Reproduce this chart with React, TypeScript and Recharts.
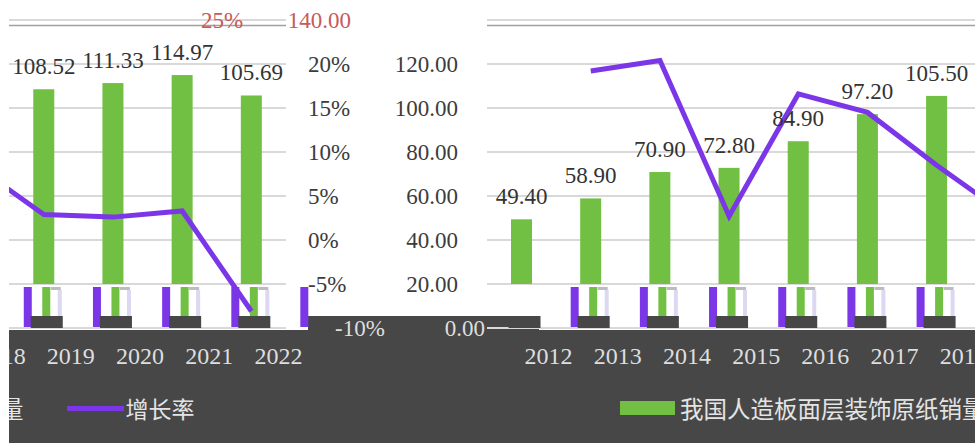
import { ComposedChart, Bar, Line, XAxis, YAxis, CartesianGrid, LabelList, ReferenceLine } from 'recharts';

const years = ['2012', '2013', '2014', '2015', '2016', '2017', '2018', '2019', '2020', '2021', '2022'];
const sales = [49.4, 58.9, 70.9, 72.8, 84.9, 97.2, 105.5, 108.52, 111.33, 114.97, 105.69];
const growth = [null, 19.2, 20.4, 2.7, 16.6, 14.5, 8.5, 2.9, 2.6, 3.3, -8.1];
const valueTicks = [0, 20, 40, 60, 80, 100, 120, 140];
const pctTicks = [-10, -5, 0, 5, 10, 15, 20, 25];
const salesName = '我国人造板面层装饰原纸销量';
const growthName = '增长率';

const data = years.map((year, i) => ({ year, sales: sales[i], growth: growth[i] }));

const GREEN = '#71c043';
const PURPLE = '#7b36e8';
const DARK = '#474747';
const TEXT = '#3c3c3c';
const LIGHT = '#dedede';
const SERIF = '"Liberation Serif", "Times New Roman", serif';
const CJK = '"Noto Sans CJK SC", sans-serif';

// the picture is wrapped around horizontally, so the same chart is drawn twice
const COPY_W = 962;
const H = 443;

function GlitchBar(props: any) {
    const { x, y, width, height, index, payload } = props;
    if (!height) return null;
    const bottom = y + height;
    const cut = bottom - (20 * height) / payload.sales;
    const c = x + width / 2;
    const hasLine = payload.growth != null;
    return (
        <g>
            <rect x={x} y={y} width={width} height={cut - y} fill={GREEN} />
            {hasLine && <rect x={c - 20} y={cut + 3} width={8} height={bottom - cut - 4} fill={PURPLE} />}
            {index === years.length - 1 && <rect x={c + 49} y={cut + 3} width={8} height={bottom - cut - 4} fill={PURPLE} />}
            {hasLine && <rect x={c - 1.5} y={cut + 3} width={8} height={bottom - 12 - cut - 3} fill={GREEN} />}
            {hasLine && <rect x={c + 7} y={cut + 3} width={10} height={3} fill="#bdbdbd" />}
            {hasLine && <rect x={c + 14} y={cut + 6} width={4} height={bottom - 12 - cut - 6} fill="#dcd8f2" />}
            <rect x={c - 13} y={bottom - 12} width={32} height={12} fill={DARK} />
        </g>
    );
}

function ValueTick({ x, y, payload, textAnchor }: any) {
    const v = payload.value;
    let dx = 0;
    let fill = TEXT;
    if (v === 140) { dx = -107; fill = '#c85a5a'; }
    if (v === 0) { dx = 27; fill = LIGHT; }
    return (
        <text x={x + dx} y={y} dy="0.35em" textAnchor={textAnchor} fill={fill} fontSize={23} fontFamily={SERIF}>
            {v.toFixed(2)}
        </text>
    );
}

function PctTick({ x, y, payload, textAnchor }: any) {
    const v = payload.value;
    let dx = 0;
    let fill = TEXT;
    if (v === 25) { dx = -107; fill = '#c85a5a'; }
    if (v === -10) { dx = 27; fill = LIGHT; }
    return (
        <text x={x + dx} y={y} dy="0.35em" textAnchor={textAnchor} fill={fill} fontSize={23} fontFamily={SERIF}>
            {`${v}%`}
        </text>
    );
}

function ChartCopy({ left }: { left: number }) {
    return (
        <div style={{ position: 'absolute', left, top: 0, width: COPY_W, height: H }}>
            <div style={{ position: 'absolute', left: 0, top: 330, width: COPY_W, height: H - 330, background: DARK }} />
            <div style={{ position: 'absolute', left: 883, top: 316, width: COPY_W - 883, height: 14, background: DARK }} />
            <div style={{ position: 'absolute', left: 0, top: 316, width: 152, height: 14, background: DARK }} />
            <div style={{ position: 'absolute', left: 0, top: 0 }}>
                <ComposedChart width={COPY_W} height={H} data={data} margin={{ top: 20, right: 0, bottom: 0, left: 0 }}>
                    <CartesianGrid yAxisId="v" vertical={false} stroke="#d9d9d9" strokeWidth={2} />
                    <XAxis
                        dataKey="year"
                        height={115}
                        interval={0}
                        tickSize={0}
                        tickMargin={19}
                        axisLine={false}
                        tick={{ fill: LIGHT, fontSize: 24, fontFamily: SERIF, dx: 27 }}
                    />
                    <YAxis
                        yAxisId="v"
                        orientation="left"
                        width={100}
                        domain={[0, 140]}
                        ticks={valueTicks}
                        tickSize={0}
                        tickMargin={29}
                        axisLine={false}
                        tick={<ValueTick />}
                    />
                    <YAxis
                        yAxisId="p"
                        orientation="right"
                        width={101}
                        domain={[-10, 25]}
                        ticks={pctTicks}
                        tickSize={0}
                        tickMargin={22}
                        axisLine={false}
                        tick={<PctTick />}
                    />
                    <ReferenceLine yAxisId="v" y={137.5} stroke="#a0a0a0" strokeWidth={1.5} />
                    <Bar yAxisId="v" dataKey="sales" name={salesName} barSize={21} shape={<GlitchBar />} isAnimationActive={false}>
                        <LabelList
                            dataKey="sales"
                            position="top"
                            offset={15}
                            formatter={(v: any) => Number(v).toFixed(2)}
                            fill="#333"
                            fontSize={23}
                            fontFamily={SERIF}
                        />
                    </Bar>
                    <Line
                        yAxisId="p"
                        dataKey="growth"
                        name={growthName}
                        stroke={PURPLE}
                        strokeWidth={5}
                        dot={false}
                        connectNulls={false}
                        isAnimationActive={false}
                    />
                </ComposedChart>
            </div>
            <div style={{ position: 'absolute', left: 233, top: 394, height: 28, display: 'flex', alignItems: 'center', color: '#e4e4e4', fontFamily: CJK, fontSize: 23.5, whiteSpace: 'nowrap' }}>
                <span style={{ display: 'inline-block', width: 55, height: 14, background: GREEN, marginRight: 5 }} />
                <span>{salesName}</span>
                <span style={{ display: 'inline-block', width: 57, height: 5, background: PURPLE, marginLeft: 43, marginRight: 2 }} />
                <span style={{ fontSize: 23 }}>{growthName}</span>
            </div>
        </div>
    );
}

export default function App() {
    return (
        <div style={{ position: 'fixed', left: 0, top: 0, width: 975, height: H, overflow: 'hidden', background: '#fff' }}>
            <style>{'svg.recharts-surface { overflow: visible; }'}</style>
            <ChartCopy left={-575} />
            <ChartCopy left={387} />
            <div style={{ position: 'absolute', left: 0, top: 0, width: 9, height: H, background: '#fff' }} />
        </div>
    );
}
